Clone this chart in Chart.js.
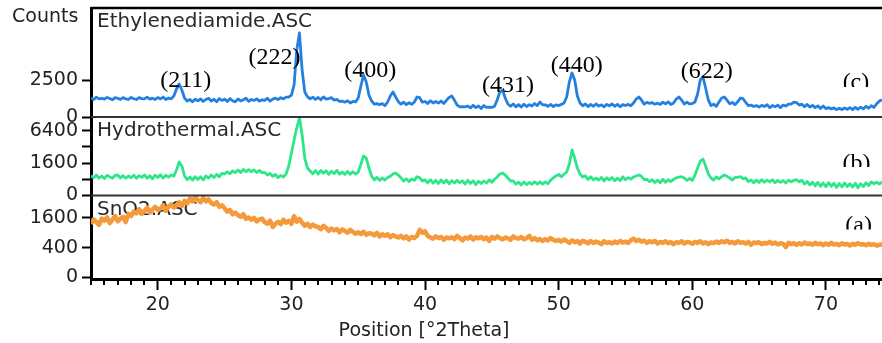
<!DOCTYPE html>
<html lang="en">
<head>
<meta charset="UTF-8">
<title>XRD patterns</title>
<script src="https://cdn.jsdelivr.net/npm/chart.js@4"></script>
<style>
  html, body { margin: 0; padding: 0; background: #fff; }
  #wrap { width: 882px; height: 343px; }
</style>
</head>
<body>
<div id="wrap"><canvas id="xrd" width="882" height="343"></canvas></div>
<script>
// scan grid, degrees 2theta (15.0 .. 74.2, 0.2 step)
const thetaStart = 15;
const thetaStep = 0.2;

// (c) Ethylenediamide.ASC, counts, one line per degree
const countsC = [
  660, 560, 720, 600, 640,
  580, 700, 620, 540, 680,
  640, 560, 690, 600, 560,
  700, 610, 560, 680, 620,
  600, 720, 580, 650, 560,
  690, 600, 720, 560, 660,
  600, 805, 1430, 1990, 1330,
  660, 460, 560, 420, 580,
  480, 600, 440, 560, 640,
  460, 580, 420, 620, 500,
  580, 440, 620, 480, 420,
  600, 470, 540, 640, 450,
  560, 500, 600, 460, 540,
  500, 640, 460, 580, 650,
  560, 680, 600, 720, 730,
  880, 1870, 8200, 12900, 4030,
  1140, 760, 600, 720, 560,
  700, 540, 740, 580, 620,
  680, 520, 570, 440, 460,
  400, 480, 360, 440, 420,
  660, 1760, 3220, 2240, 880,
  470, 300, 330, 270, 330,
  240, 410, 805, 1140, 730,
  430, 300, 400, 280, 370,
  290, 410, 730, 680, 400,
  440, 330, 480, 360, 440,
  350, 470, 330, 500, 700,
  805, 520, 260, 190, 200,
  190, 220, 150, 250, 160,
  220, 130, 240, 170, 180,
  170, 210, 530, 1140, 1330,
  660, 310, 210, 310, 190,
  280, 180, 300, 200, 280,
  220, 330, 240, 410, 270,
  270, 210, 290, 200, 270,
  240, 290, 360, 730, 2240,
  3540, 2500, 805, 360, 230,
  310, 200, 290, 210, 310,
  220, 270, 190, 290, 230,
  310, 210, 290, 190, 280,
  240, 290, 230, 360, 590,
  730, 530, 300, 390, 340,
  380, 300, 350, 290, 400,
  320, 420, 290, 360, 590,
  730, 530, 310, 400, 310,
  330, 410, 970, 2500, 2920,
  1540, 530, 240, 300, 210,
  410, 660, 730, 520, 320,
  390, 280, 420, 660, 610,
  390, 240, 260, 200, 240,
  180, 250, 200, 280, 160,
  240, 190, 260, 160, 260,
  220, 300, 300, 400, 380,
  260, 300, 190, 290, 180,
  250, 160, 230, 130, 220,
  130, 160, 120, 150, 100,
  140, 100, 150, 110, 160,
  100, 170, 110, 180, 120,
  210, 140, 230, 170, 320,
  460, 540
];

// (b) Hydrothermal.ASC, counts
const countsB = [
  600, 480, 640, 460, 580,
  440, 620, 530, 450, 610,
  640, 470, 600, 450, 580,
  480, 630, 450, 600, 500,
  640, 460, 590, 430, 630,
  490, 650, 460, 620, 510,
  640, 570, 990, 1710, 1330,
  580, 380, 520, 360, 540,
  390, 530, 370, 580, 460,
  640, 490, 680, 530, 740,
  700, 860, 720, 920, 800,
  990, 800, 1040, 860, 1020,
  860, 1000, 800, 960, 800,
  800, 640, 740, 560, 680,
  480, 620, 520, 705, 1330,
  2750, 4700, 6940, 9270, 5580,
  2140, 1150, 915, 720, 950,
  700, 960, 760, 930, 680,
  900, 730, 960, 700, 840,
  680, 880, 690, 860, 700,
  840, 1510, 2380, 2140, 1150,
  580, 370, 500, 350, 470,
  360, 500, 560, 710, 770,
  640, 470, 320, 430, 300,
  420, 350, 540, 480, 320,
  370, 240, 380, 230, 350,
  220, 370, 240, 360, 210,
  340, 240, 350, 250, 330,
  200, 350, 220, 330, 180,
  310, 220, 320, 240, 370,
  270, 400, 520, 705, 770,
  640, 470, 320, 330, 200,
  270, 170, 280, 180, 260,
  190, 290, 200, 280, 200,
  280, 210, 360, 470, 580,
  680, 530, 690, 840, 1510,
  3160, 2140, 1150, 705, 520,
  590, 390, 540, 370, 460,
  360, 500, 330, 480, 370,
  490, 330, 460, 340, 530,
  380, 480, 410, 520, 580,
  640, 560, 380, 400, 290,
  380, 260, 360, 250, 400,
  270, 380, 300, 400, 470,
  520, 540, 470, 350, 440,
  350, 640, 1150, 1810, 2030,
  1330, 705, 470, 360, 530,
  420, 540, 640, 560, 470,
  360, 500, 500, 540, 440,
  470, 290, 370, 250, 360,
  260, 380, 270, 360, 280,
  380, 250, 350, 260, 340,
  240, 360, 280, 350, 380,
  280, 360, 200, 300, 170,
  270, 140, 260, 130, 240,
  120, 250, 130, 230, 100,
  220, 110, 240, 120, 210,
  110, 230, 90, 210, 120,
  250, 150, 280, 210, 270,
  200, 280
];

// (a) SnO2.ASC, counts
const countsA = [
  1290, 1520, 1380, 1250, 1560,
  1450, 1620, 1330, 1500, 1700,
  1420, 1560, 1650, 1380, 1820,
  1700, 1950, 1850, 2100, 1820,
  2000, 2200, 1900, 2080, 2250,
  2050, 2150, 2350, 2000, 2250,
  2400, 2200, 2350, 2550, 2300,
  2650, 2450, 2800, 2600, 2900,
  2700, 2550, 2850, 2600, 2750,
  2500, 2400, 2550, 2250, 2350,
  2150, 1950, 2050, 1800, 1900,
  1750, 1650, 1800, 1550, 1620,
  1500, 1600, 1420, 1520, 1560,
  1380, 1300, 1450, 1150, 1300,
  1400, 1280, 1500, 1350, 1450,
  1300, 1700, 1400, 1550, 1350,
  1200, 1300, 1150, 1260, 1180,
  1150, 1050, 1200, 1100, 980,
  1080, 1000, 1060, 920, 1040,
  980, 900, 1020, 940, 860,
  920, 850, 940, 820, 880,
  860, 800, 900, 760, 840,
  780, 840, 730, 810, 760,
  720, 780, 690, 760, 650,
  740, 700, 780, 1020, 900,
  960, 780, 720, 680, 760,
  700, 740, 640, 720, 690,
  730, 660, 780, 700, 620,
  720, 680, 760, 650, 730,
  690, 740, 660, 720, 600,
  740, 680, 760, 700, 650,
  720, 690, 640, 760, 700,
  680, 740, 660, 700, 780,
  640, 700, 620, 670, 600,
  660, 620, 700, 640, 600,
  640, 580, 650, 600, 540,
  620, 560, 600, 520, 610,
  570, 530, 600, 540, 580,
  550, 500, 590, 540, 560,
  520, 580, 540, 600, 550,
  580, 540, 620, 680, 600,
  640, 580, 610, 540, 590,
  560, 600, 520, 570, 540,
  590, 530, 570, 500, 560,
  540, 590, 520, 570, 550,
  510, 570, 540, 590, 520,
  560, 500, 550, 530, 580,
  540, 590, 560, 610, 540,
  570, 520, 590, 540, 560,
  520, 570, 480, 550, 530,
  560, 500, 540, 520, 570,
  510, 550, 490, 530, 510,
  420, 540, 500, 530, 480,
  530, 490, 550, 500, 520,
  480, 540, 500, 520, 470,
  520, 480, 540, 490, 510,
  470, 530, 490, 510, 460,
  510, 480, 530, 490, 500,
  470, 510, 480, 500, 460,
  480, 500
];

// axis ticks
const thetaTicks = [20, 30, 40, 50, 60, 70];
const ticksC = [0, 2500];
const ticksB = [0, 400, 1600, 3600, 6400];
const labelsB = [0, 1600, 6400];
const ticksA = [0, 400, 1600];

const panelNames = ['Ethylenediamide.ASC', 'Hydrothermal.ASC', 'SnO2.ASC'];
const panelTags = ['(c)', '(b)', '(a)'];
const peakLabels = ['(211)', '(222)', '(400)', '(431)', '(440)', '(622)'];

// where the annotations sit: [2theta, pixel y]
const peakLabelPos = [[22.09, 81], [28.73, 58], [35.9, 71], [46.2, 86], [51.35, 66], [61.08, 72]];
const tagPos = [[72.25, 83, 87], [72.3, 164, 167], [72.45, 226, 229.5]];

const twoTheta = countsC.map((_, i) => +(thetaStart + i * thetaStep).toFixed(1));

const tickFont = { family: 'DejaVu Sans', size: 19 };
const inkColor = '#222';

// counts are shown on a square-root scale
function toPoints(counts) {
  return twoTheta.map((t, i) => ({ x: t, y: Math.sqrt(counts[i]) }));
}

function panelScale(weight, minS, maxS, tickCounts, labelled) {
  return {
    type: 'linear',
    position: 'left',
    stack: 'panels',
    stackWeight: weight,
    min: minS,
    max: maxS,
    afterBuildTicks: s => { s.ticks = tickCounts.map(c => ({ value: Math.sqrt(c) })); },
    afterFit: s => { s.width = 91; s.paddingTop = 0; s.paddingBottom = 0; },
    ticks: {
      font: tickFont,
      color: inkColor,
      padding: 4,
      autoSkip: false,
      callback: v => {
        const c = Math.round(v * v);
        return labelled.includes(c) ? String(c) : '';
      }
    },
    grid: { drawOnChartArea: false, drawTicks: true, tickLength: 9, tickWidth: 2, tickColor: '#000' },
    border: { display: true, width: 3, color: '#000' }
  };
}

const decorations = {
  id: 'decorations',
  beforeDatasetsDraw(chart) {
    const { ctx, chartArea } = chart;
    ctx.save();
    ctx.font = '20px "DejaVu Sans"';
    ctx.fillStyle = '#2a2a2a';
    ctx.textAlign = 'left';
    ctx.textBaseline = 'alphabetic';
    ['yC', 'yB', 'yA'].forEach((id, i) => {
      ctx.fillText(panelNames[i], chartArea.left + 6, chart.scales[id].top + 19);
    });
    ctx.restore();
  },
  afterDraw(chart) {
    const { ctx, chartArea } = chart;
    const x = chart.scales.x;
    ctx.save();

    // frame top and panel separators
    ctx.strokeStyle = '#000';
    ctx.lineWidth = 2.5;
    ctx.beginPath();
    ctx.moveTo(chartArea.left, chart.scales.yC.top);
    ctx.lineTo(chartArea.right, chart.scales.yC.top);
    ctx.stroke();
    ctx.strokeStyle = '#333';
    ctx.lineWidth = 2;
    ['yB', 'yA'].forEach(id => {
      const y = chart.scales[id].top;
      ctx.beginPath();
      ctx.moveTo(chartArea.left, y);
      ctx.lineTo(chartArea.right, y);
      ctx.stroke();
    });

    // minor ticks every degree
    ctx.strokeStyle = '#000';
    ctx.lineWidth = 2;
    for (let t = Math.ceil(x.min); t <= x.max; t++) {
      if (t % 10 === 0) continue;
      const px = Math.round(x.getPixelForValue(t));
      ctx.beginPath();
      ctx.moveTo(px, x.top);
      ctx.lineTo(px, x.top + 6);
      ctx.stroke();
    }

    // axis texts
    ctx.fillStyle = inkColor;
    ctx.font = '19px "DejaVu Sans"';
    ctx.textAlign = 'left';
    ctx.textBaseline = 'alphabetic';
    ctx.fillText('Counts', 12, 22);
    ctx.textAlign = 'center';
    ctx.fillText('Position [°2Theta]', x.getPixelForValue(40) - 1, 336);

    // reflection labels
    ctx.fillStyle = '#000';
    ctx.font = '24px "Liberation Serif"';
    ctx.textBaseline = 'middle';
    peakLabels.forEach((txt, i) => {
      ctx.fillText(txt, x.getPixelForValue(peakLabelPos[i][0]), peakLabelPos[i][1]);
    });
    panelTags.forEach((txt, i) => {
      const [t, y, clipY] = tagPos[i];
      ctx.save();
      ctx.beginPath();
      ctx.rect(0, 0, chart.width, clipY);
      ctx.clip();
      ctx.fillText(txt, x.getPixelForValue(t), y);
      ctx.restore();
    });
    ctx.restore();
  }
};

new Chart(document.getElementById('xrd'), {
  type: 'line',
  data: {
    datasets: [
      { label: 'SnO2.ASC', data: toPoints(countsA), yAxisID: 'yA', borderColor: '#f59a3a', borderWidth: 4.5 },
      { label: 'Hydrothermal.ASC', data: toPoints(countsB), yAxisID: 'yB', borderColor: '#2ee68a', borderWidth: 2.8 },
      { label: 'Ethylenediamide.ASC', data: toPoints(countsC), yAxisID: 'yC', borderColor: '#2480e0', borderWidth: 2.8 }
    ]
  },
  options: {
    responsive: false,
    animation: false,
    events: [],
    layout: { padding: { top: 8, right: 0, bottom: 0, left: 0 } },
    elements: { point: { radius: 0 }, line: { tension: 0, borderJoinStyle: 'round' } },
    plugins: { legend: { display: false }, tooltip: { enabled: false } },
    scales: {
      x: {
        type: 'linear',
        min: 15,
        max: 74.2,
        afterBuildTicks: s => { s.ticks = thetaTicks.map(v => ({ value: v })); },
        afterFit: s => { s.height = 64; s.paddingLeft = 0; s.paddingRight = 0; },
        ticks: { font: tickFont, color: inkColor, padding: 4, maxRotation: 0, autoSkip: false },
        grid: { drawOnChartArea: false, tickLength: 11, tickWidth: 2, tickColor: '#000' },
        border: { width: 3, color: '#000' }
      },
      yA: panelScale(83.5, -1, 55, ticksA, ticksA),
      yB: panelScale(78.5, 0, 96.9, ticksB, labelsB),
      yC: panelScale(109, 0, 147.3, ticksC, ticksC)
    }
  },
  plugins: [decorations]
});
</script>
</body>
</html>
